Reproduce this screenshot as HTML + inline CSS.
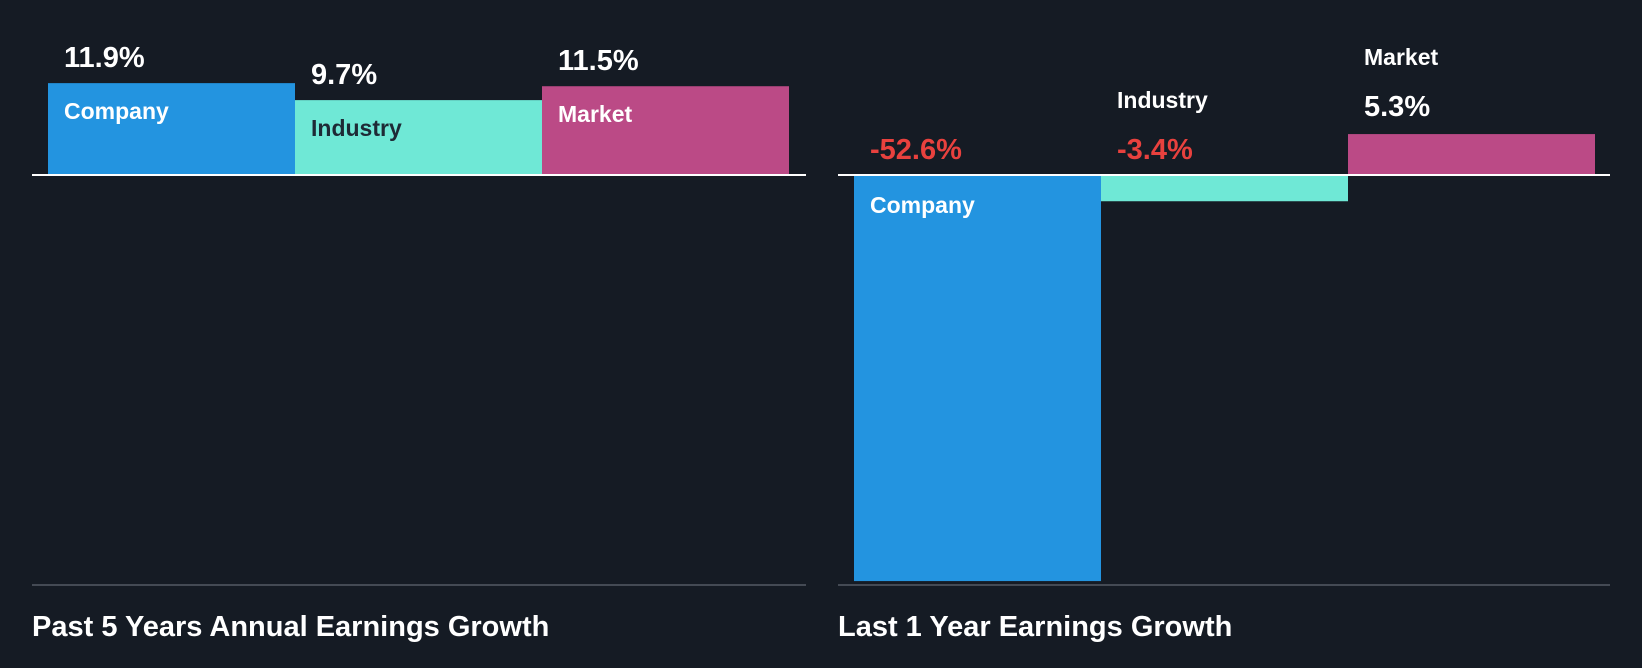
<!DOCTYPE html>
<html><head><meta charset="utf-8"><style>
html,body{margin:0;padding:0;background:#151b24;}
svg{display:block;font-family:"Liberation Sans",Arial,sans-serif;font-weight:bold;}
</style></head><body>
<svg id="chart" width="1642" height="668" viewBox="0 0 1642 668">
<rect x="0" y="0" width="1642" height="668" fill="#151b24"/>
</svg>
<script>
const categories = ["Company","Industry","Market"];
const past5Values = [11.9, 9.7, 11.5];
const last1Values = [-52.6, -3.4, 5.3];
const panelTitles = ["Past 5 Years Annual Earnings Growth","Last 1 Year Earnings Growth"];
const colors = ["#2394e0","#6fe8d6","#bb4a86"];
const labelColors = ["#ffffff","#1e2a36","#ffffff"];
const NS = "http://www.w3.org/2000/svg";
const svg = document.getElementById('chart');
const axisY = 175, pxPerUnit = 7.72;
function yScale(v){ return axisY - v*pxPerUnit; }
function mk(tag, attrs){ const e=document.createElementNS(NS,tag); for(const k in attrs) e.setAttribute(k,attrs[k]); svg.appendChild(e); return e; }
const panels = [
  {x0:32, x1:806, barX:48, barW:247, values:past5Values, title:panelTitles[0], key:'past-5-years'},
  {x0:838, x1:1610, barX:854, barW:247, values:last1Values, title:panelTitles[1], key:'last-1-year'}
];
panels.forEach(p=>{
  p.values.forEach((v,i)=>{
    const x = p.barX + i*p.barW;
    const y0 = Math.min(yScale(v), axisY), h = Math.abs(yScale(v)-axisY);
    const r = mk('rect',{x:x,y:y0,width:p.barW,height:h,fill:colors[i]});
    
    
    const valTxt = (v>0?'':'') + v.toFixed(1) + '%';
    let valY, labY, labFill;
    if (v >= 0 && h > 60) {
      valY = y0 - 16; labY = y0 + 36; labFill = labelColors[i];
    } else if (v >= 0) {
      valY = y0 - 18; labY = valY - 51; labFill = '#ffffff';
    } else if (h > 60) {
      valY = axisY - 16; labY = axisY + 38; labFill = labelColors[i];
    } else {
      valY = axisY - 16; labY = valY - 51; labFill = '#ffffff';
    }
    const t = mk('text',{x:x+16,y:valY,fill:v<0?'#e8413e':'#ffffff','font-size':29});
    t.textContent = valTxt;
    
    
    const l = mk('text',{x:x+16,y:labY,fill:labFill,'font-size':23});
    l.textContent = categories[i];
    
    
  });
  const a = mk('line',{x1:p.x0,x2:p.x1,y1:axisY,y2:axisY,stroke:'#ffffff','stroke-width':2});
  
  
  const b = mk('line',{x1:p.x0,x2:p.x1,y1:585,y2:585,stroke:'#444a54','stroke-width':2});
  
  
  const tt = mk('text',{x:p.x0,y:636,fill:'#ffffff','font-size':29});
  tt.textContent = p.title;
  
  
});
</script>
</body></html>
